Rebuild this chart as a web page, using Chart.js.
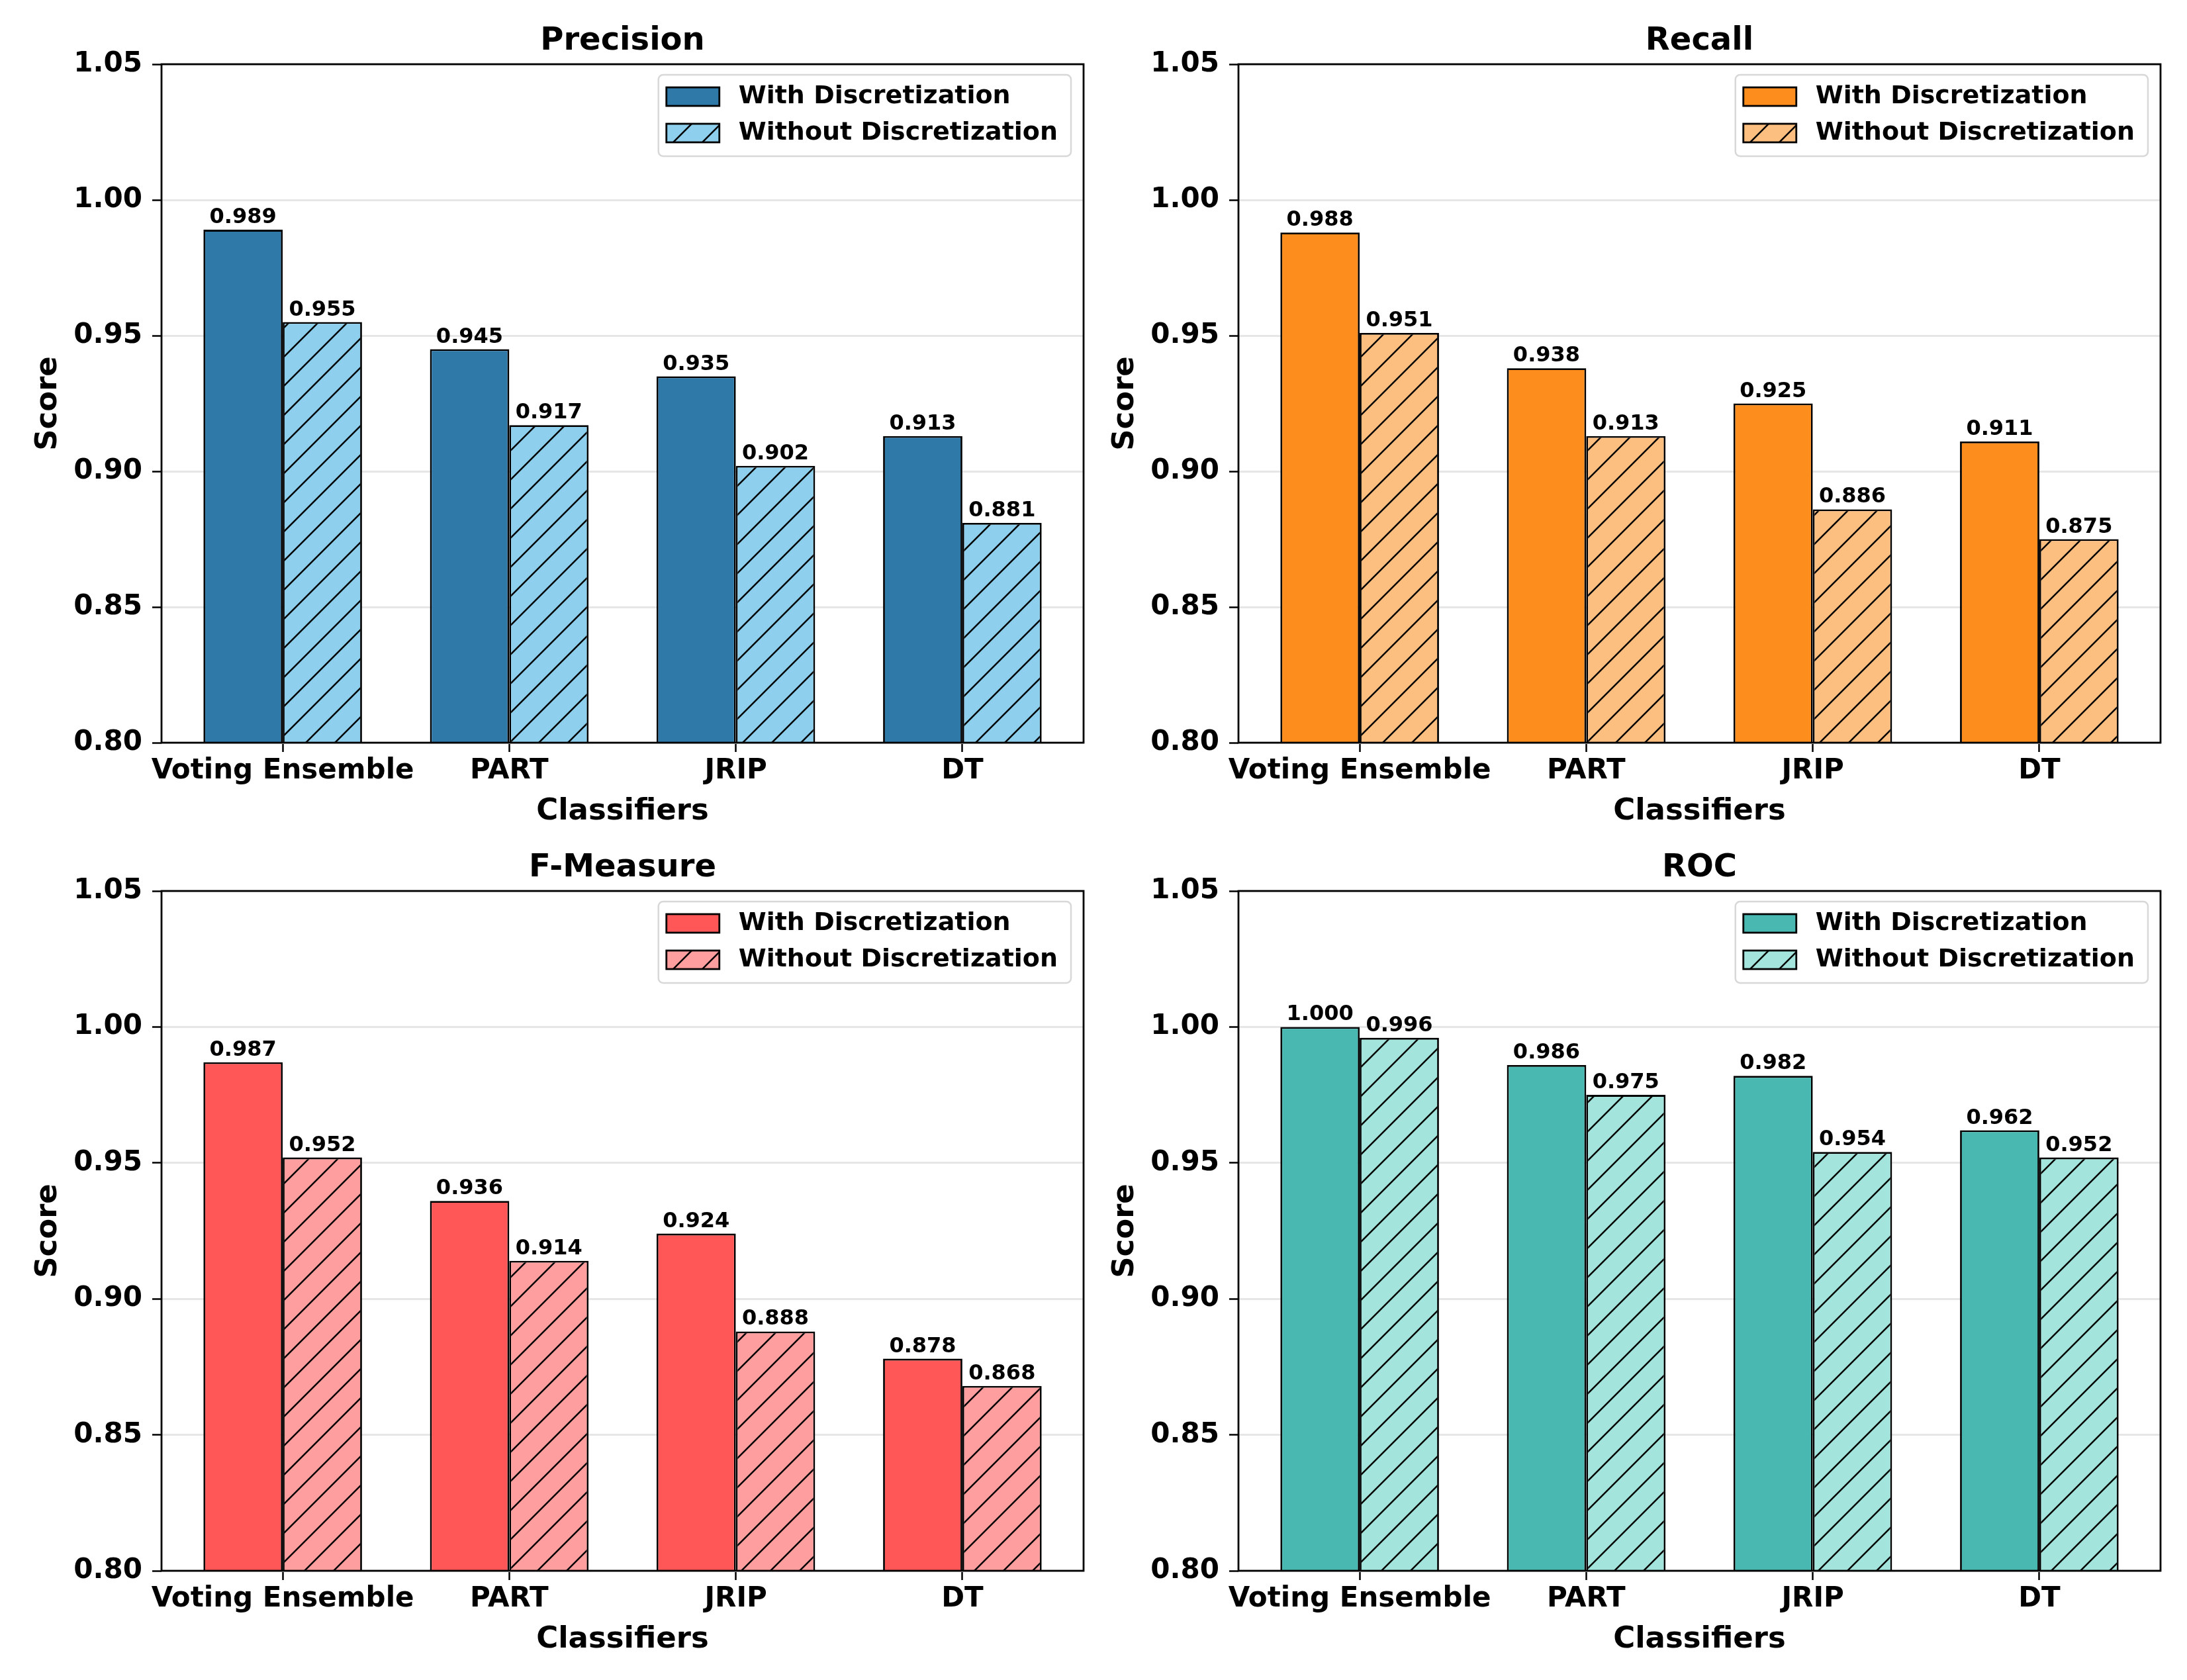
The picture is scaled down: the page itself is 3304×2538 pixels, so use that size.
<!DOCTYPE html>
<html>
<head>
<meta charset="utf-8">
<script src="https://cdn.jsdelivr.net/npm/chart.js@4.4.1/dist/chart.umd.min.js"></script>
<style>
  html, body { margin: 0; padding: 0; background: #fff; }
  #page { position: relative; width: 3304px; height: 2538px; overflow: hidden; background: #fff; }
  canvas { position: absolute; }
</style>
</head>
<body>
<div id="page">
  <canvas id="c-precision" width="1652" height="1269" style="left:0px;top:0px"></canvas>
  <canvas id="c-recall" width="1677" height="1269" style="left:1627px;top:0px"></canvas>
  <canvas id="c-fmeasure" width="1652" height="1289" style="left:0px;top:1249px"></canvas>
  <canvas id="c-roc" width="1677" height="1289" style="left:1627px;top:1249px"></canvas>
</div>
<script>
// values
var classifiers = ['Voting Ensemble', 'PART', 'JRIP', 'DT'];
var seriesNames = ['With Discretization', 'Without Discretization'];

var precisionWith    = [0.989, 0.945, 0.935, 0.913];
var precisionWithout = [0.955, 0.917, 0.902, 0.881];
var recallWith       = [0.988, 0.938, 0.925, 0.911];
var recallWithout    = [0.951, 0.913, 0.886, 0.875];
var fmeasureWith     = [0.987, 0.936, 0.924, 0.878];
var fmeasureWithout  = [0.952, 0.914, 0.888, 0.868];
var rocWith          = [1.000, 0.986, 0.982, 0.962];
var rocWithout       = [0.996, 0.975, 0.954, 0.952];

var yMin = 0.80, yMax = 1.05, yStep = 0.05;
// matplotlib-like x limits around bars at 0..3
var xMin = -0.535, xMax = 3.535;

Chart.defaults.font.family = '"DejaVu Sans", sans-serif';
Chart.defaults.font.weight = 'bold';
Chart.defaults.color = '#000';

function toPoints(vals) {
  return vals.map(function(v, i) { return { x: i, y: v }; });
}

// "/" hatch like matplotlib
function hatch(ctx, color) {
  var p = 44;
  var c = document.createElement('canvas');
  c.width = p; c.height = p;
  var g = c.getContext('2d');
  g.fillStyle = color;
  g.fillRect(0, 0, p, p);
  g.strokeStyle = '#000';
  g.lineWidth = 2.5;
  g.beginPath();
  [0, p, 2 * p].forEach(function(k) {
    g.moveTo(-4, k + 4);
    g.lineTo(p + 4, k - p - 4);
  });
  g.stroke();
  return ctx.createPattern(c, 'repeat');
}

var valueLabels = {
  id: 'valueLabels',
  afterDatasetsDraw: function(chart) {
    var ctx = chart.ctx;
    ctx.save();
    ctx.font = 'bold 32px "DejaVu Sans"';
    ctx.fillStyle = '#000';
    ctx.textAlign = 'center';
    ctx.textBaseline = 'alphabetic';
    chart.data.datasets.forEach(function(ds, i) {
      chart.getDatasetMeta(i).data.forEach(function(bar, j) {
        ctx.fillText(ds.data[j].y.toFixed(3), bar.x, bar.y - 10);
      });
    });
    ctx.restore();
  }
};

var frame = {
  id: 'frame',
  afterDatasetsDraw: function(chart) {
    var a = chart.chartArea, ctx = chart.ctx;
    ctx.save();
    ctx.strokeStyle = '#000';
    ctx.lineWidth = 2.8;
    ctx.strokeRect(a.left, a.top, a.right - a.left, a.bottom - a.top);
    ctx.restore();
  }
};

var boxLegend = {
  id: 'boxLegend',
  afterDraw: function(chart) {
    var a = chart.chartArea, ctx = chart.ctx;
    ctx.save();
    ctx.font = 'bold 38px "DejaVu Sans"';
    var textW = 0;
    chart.data.datasets.forEach(function(ds) {
      textW = Math.max(textW, ctx.measureText(ds.label).width);
    });
    var w = 12 + 80 + 29 + textW + 20, h = 123;
    var x = a.right - 19 - w, y = a.top + 16;
    ctx.beginPath();
    if (ctx.roundRect) ctx.roundRect(x, y, w, h, 7); else ctx.rect(x, y, w, h);
    ctx.fillStyle = 'rgba(255,255,255,0.8)';
    ctx.fill();
    ctx.strokeStyle = '#d8d8d8';
    ctx.lineWidth = 2.5;
    ctx.stroke();
    chart.data.datasets.forEach(function(ds, i) {
      var cy = y + 33 + i * 55;
      ctx.fillStyle = ds.backgroundColor;
      ctx.fillRect(x + 12, cy - 14, 80, 28);
      ctx.strokeStyle = '#000';
      ctx.lineWidth = 2.8;
      ctx.strokeRect(x + 12, cy - 14, 80, 28);
      ctx.fillStyle = '#000';
      ctx.textAlign = 'left';
      ctx.textBaseline = 'middle';
      ctx.fillText(ds.label, x + 121, cy);
    });
    ctx.restore();
  }
};

function makeChart(id, title, withVals, withoutVals, solid, light, pad) {
  var ctx = document.getElementById(id).getContext('2d');
  return new Chart(ctx, {
    type: 'bar',
    data: {
      datasets: [
        { label: seriesNames[0], data: toPoints(withVals), backgroundColor: solid,
          borderColor: '#000', borderWidth: 2.8, borderSkipped: false },
        { label: seriesNames[1], data: toPoints(withoutVals), backgroundColor: hatch(ctx, light),
          borderColor: '#000', borderWidth: 2.8, borderSkipped: false }
      ]
    },
    options: {
      responsive: false,
      animation: false,
      devicePixelRatio: 1,
      layout: { padding: pad },
      datasets: { bar: { categoryPercentage: 0.7, barPercentage: 1.0 } },
      plugins: {
        legend: { display: false },
        tooltip: { enabled: false },
        title: {
          display: true, text: title, fullSize: false, color: '#000',
          font: { size: 48, weight: 'bold' },
          padding: { top: 34, bottom: 5.4 }
        }
      },
      scales: {
        x: {
          type: 'linear', min: xMin, max: xMax, offset: false,
          ticks: {
            padding: 4, autoSkip: false, maxRotation: 0,
            color: '#000', font: { size: 42, weight: 'bold' },
            callback: function(v) { return classifiers[v]; }
          },
          // one tick per classifier
          afterBuildTicks: function(s) {
            s.ticks = classifiers.map(function(c, i) { return { value: i }; });
          },
          grid: { offset: false, drawOnChartArea: false, drawTicks: true, tickLength: 14, tickColor: '#000', tickWidth: 2.5 },
          border: { display: false },
          title: { display: true, text: 'Classifiers', color: '#000', font: { size: 45, weight: 'bold' }, padding: { top: 0, bottom: 16 } },
          afterFit: function(s) { s.height = 147; }
        },
        y: {
          min: yMin, max: yMax,
          ticks: {
            stepSize: yStep, padding: 15, color: '#000', font: { size: 42, weight: 'bold' },
            callback: function(v) { return v.toFixed(2); }
          },
          grid: { color: '#e6e6e6', lineWidth: 3, tickLength: 14, tickColor: '#000', tickWidth: 2.5 },
          border: { display: false },
          title: { display: true, text: 'Score', color: '#000', font: { size: 45, weight: 'bold' }, padding: { top: 46, bottom: 0 } },
          afterFit: function(s) { s.width = 244; }
        }
      }
    },
    plugins: [valueLabels, frame, boxLegend]
  });
}

makeChart('c-precision', 'Precision', precisionWith, precisionWithout, '#2f79a9', '#8dcfec',
  { left: 0, right: 15, top: 0, bottom: 0 });
makeChart('c-recall', 'Recall', recallWith, recallWithout, '#fd8d1c', '#fdbf80',
  { left: 0, right: 40, top: 0, bottom: 0 });
makeChart('c-fmeasure', 'F-Measure', fmeasureWith, fmeasureWithout, '#ff5757', '#ff9e9e',
  { left: 0, right: 15, top: 0, bottom: 18 });
makeChart('c-roc', 'ROC', rocWith, rocWithout, '#48b8b1', '#a3e4dd',
  { left: 0, right: 40, top: 0, bottom: 18 });
</script>
</body>
</html>
